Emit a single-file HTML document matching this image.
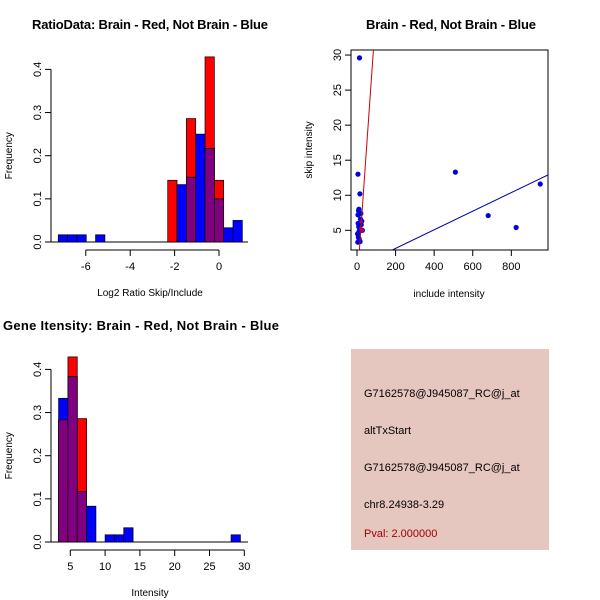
<!DOCTYPE html>
<html><head><meta charset="utf-8"><style>
html,body{margin:0;padding:0;background:#fff;}
svg{display:block;font-family:"Liberation Sans",sans-serif;}
</style></head><body>
<svg id="c" width="600" height="600" viewBox="0 0 600 600">
<text x="150" y="29" text-anchor="middle" font-size="13" font-weight="bold" textLength="236">RatioData: Brain - Red, Not Brain - Blue</text>
<text x="451" y="29" text-anchor="middle" font-size="13" font-weight="bold" textLength="170">Brain - Red, Not Brain - Blue</text>
<text x="141" y="330" text-anchor="middle" font-size="13" font-weight="bold" textLength="276">Gene Itensity: Brain - Red, Not Brain - Blue</text>
<rect x="351" y="349" width="198" height="201" fill="#E5C7C0"/>
<text x="364" y="397" font-size="11">G7162578@J945087_RC@j_at</text>
<text x="364" y="434" font-size="11">altTxStart</text>
<text x="364" y="471" font-size="11">G7162578@J945087_RC@j_at</text>
<text x="364" y="508" font-size="11">chr8.24938-3.29</text>
<text x="364" y="537" font-size="11" fill="#A00000">Pval: 2.000000</text>
</svg>
<script>
// Ratio histogram data
const ratioBinW = 0.42;
const ratioRedLefts = [-2.31,-1.89,-1.47,-1.05,-0.63,-0.21];
const ratioRedFreq = [0.143,0,0.286,0,0.429,0.143];
const ratioBlueLefts = [-7.24,-6.82,-6.40,-5.56,-1.89,-1.47,-1.05,-0.63,-0.21,0.21,0.63];
const ratioBlueFreq = [0.0167,0.0167,0.0167,0.0167,0.133,0.15,0.25,0.217,0.1,0.033,0.05];
const ratioXTicks = [-6,-4,-2,0];
const freqTicks = [0.0,0.1,0.2,0.3,0.4];
// Intensity histogram data
const intBinW = 1.34;
const intRedLefts = [3.32,4.66,6.0];
const intRedFreq = [0.283,0.429,0.286];
const intBlueLefts = [3.32,4.66,6.0,7.34,10.0,11.34,12.68,28.1];
const intBlueFreq = [0.333,0.383,0.117,0.083,0.0167,0.0167,0.033,0.0167];
const intXTicks = [5,10,15,20,25,30];
// Scatter data
const scatterInclude = [13,510,680,825,950,5,15,10,8,5,12,20,25,28,6,9,14,18,3,7,11,22,16,4,10,12];
const scatterSkip = [29.6,13.3,7.1,5.4,11.6,13,10.2,8,7.8,7.2,7.5,7.4,6.3,5,6,5.5,5.2,6.6,4.5,4,3.8,5.8,3.4,3.3,4.8,5.9];
const scatterRedInclude = [28,20,22];
const scatterRedSkip = [5,5.3,6.2];
const redLineX = [12.4,85];
const redLineY = [2.19,30.7];
const blueLineX = [183,990];
const blueLineY = [2.19,12.9];
const scXTicks = [0,200,400,600,800];
const scYTicks = [5,10,15,20,25,30];

const svg = document.getElementById('c');
const NS='http://www.w3.org/2000/svg';
function mk(tag, attrs){const e=document.createElementNS(NS,tag);for(const k in attrs)e.setAttribute(k,attrs[k]);svg.appendChild(e);return e;}
function txt(x,y,s,attrs){const e=mk('text',Object.assign({x:x,y:y,'font-size':11},attrs||{}));e.textContent=s;return e;}

function hist(xs, ys, redL, redF, blueL, blueF, w, xticks, xlabel, prefix, axisY, tickMin, tickMax){
  // y axis
  const axX=51;
  const yl=mk('line',{x1:axX,y1:ys(0),x2:axX,y2:ys(0.4),stroke:'#000'});
  
  
  freqTicks.forEach(t=>{
    const l=mk('line',{x1:axX-6,y1:ys(t),x2:axX,y2:ys(t),stroke:'#000'});
    
    
    const tx=txt(0,0,t.toFixed(1),{transform:`translate(${axX-10},${ys(t)}) rotate(-90)`,'text-anchor':'middle'});
    
    
  });
  const yt=txt(0,0,'Frequency',{transform:`translate(12,${ys(0.2)}) rotate(-90)`,'text-anchor':'middle','font-size':10});
  
  
  // baseline
  const bl=mk('line',{x1:axX,y1:ys(0),x2:248,y2:ys(0),stroke:'#000'});
  
  
  // x axis
  const xl=mk('line',{x1:xs(tickMin),y1:axisY,x2:xs(tickMax),y2:axisY,stroke:'#000'});
  
  
  xticks.forEach(t=>{
    const l=mk('line',{x1:xs(t),y1:axisY,x2:xs(t),y2:axisY+6,stroke:'#000'});
    
    
    const tx=txt(xs(t),axisY+20,String(t),{'text-anchor':'middle'});
    
    
  });
  const xt=txt(150,axisY+46,xlabel,{'text-anchor':'middle','font-size':10});
  
  
  // bars
  redL.forEach((l,i)=>{ if(redF[i]<=0) return;
    const r=mk('rect',{x:xs(l),y:ys(redF[i]),width:xs(l+w)-xs(l),height:ys(0)-ys(redF[i]),fill:'#FF0000',stroke:'#000','stroke-width':0.7});
    
    
  });
  blueL.forEach((l,i)=>{
    const r=mk('rect',{x:xs(l),y:ys(blueF[i]),width:xs(l+w)-xs(l),height:ys(0)-ys(blueF[i]),fill:'#0000FF',stroke:'#000','stroke-width':0.7});
    
    
    const j=redL.findIndex(v=>Math.abs(v-l)<1e-6);
    if(j>=0 && redF[j]>0){
      const m=Math.min(redF[j],blueF[i]);
      const p=mk('rect',{x:xs(l),y:ys(m),width:xs(l+w)-xs(l),height:ys(0)-ys(m),fill:'#800080',stroke:'#000','stroke-width':0.7});
      
      
    }
  });
}

// ratio histogram
hist(v=>219+v*22.2, f=>242-f*431.5, ratioRedLefts, ratioRedFreq, ratioBlueLefts, ratioBlueFreq, ratioBinW, ratioXTicks, 'Log2 Ratio Skip/Include', 'ratio', 250, -6, 0);
// intensity histogram
hist(v=>70.3+(v-5)*6.96, f=>542-f*431.5, intRedLefts, intRedFreq, intBlueLefts, intBlueFreq, intBinW, intXTicks, 'Intensity', 'intensity', 550, 5, 30);

// scatter
const sx=v=>357+v*0.1929, sy=v=>230.3-(v-5)*7.01;
const box=mk('rect',{x:351,y:50,width:197,height:200,fill:'none',stroke:'#000'});


scXTicks.forEach(t=>{
  const l=mk('line',{x1:sx(t),y1:250,x2:sx(t),y2:256,stroke:'#000'});
  
  
  const tx=txt(sx(t),270,String(t),{'text-anchor':'middle'});
  
  
});
scYTicks.forEach(t=>{
  const l=mk('line',{x1:345,y1:sy(t),x2:351,y2:sy(t),stroke:'#000'});
  
  
  const tx=txt(0,0,String(t),{transform:`translate(341,${sy(t)}) rotate(-90)`,'text-anchor':'middle'});
  
  
});
const sxt=txt(449,297,'include intensity',{'text-anchor':'middle','font-size':10});


const syt=txt(0,0,'skip intensity',{transform:'translate(312,150) rotate(-90)','text-anchor':'middle','font-size':10});


const clip=mk('clipPath',{id:'sc'});
const cr=document.createElementNS(NS,'rect');cr.setAttribute('x',351);cr.setAttribute('y',50);cr.setAttribute('width',197);cr.setAttribute('height',200);clip.appendChild(cr);
scatterInclude.forEach((v,i)=>{
  const c=mk('circle',{cx:sx(v),cy:sy(scatterSkip[i]),r:2.6,fill:'#0000DD','clip-path':'url(#sc)'});
  
  
});
scatterRedInclude.forEach((v,i)=>{
  const c=mk('circle',{cx:sx(v),cy:sy(scatterRedSkip[i]),r:1.6,fill:'#CC0044','clip-path':'url(#sc)'});
  
  
});
const rl=mk('line',{x1:sx(redLineX[0]),y1:sy(redLineY[0]),x2:sx(redLineX[1]),y2:sy(redLineY[1]),stroke:'#CC0000','stroke-width':1,'clip-path':'url(#sc)'});


const bll=mk('line',{x1:sx(blueLineX[0]),y1:sy(blueLineY[0]),x2:sx(blueLineX[1]),y2:sy(blueLineY[1]),stroke:'#0000AA','stroke-width':1,'clip-path':'url(#sc)'});


</script>
</body></html>
